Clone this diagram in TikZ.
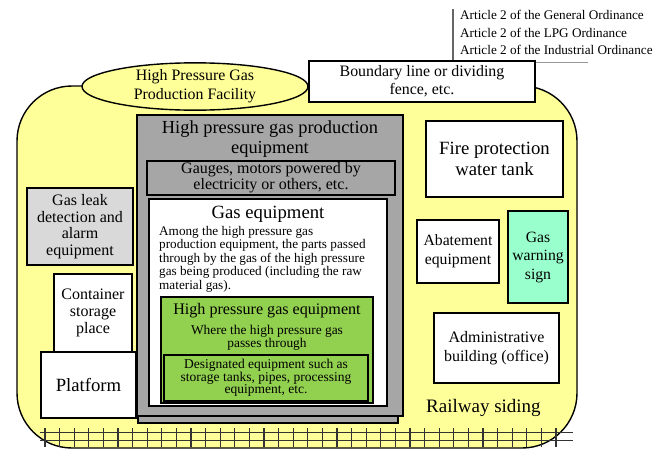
\documentclass[tikz,border=0pt]{standalone}
\usepackage{fontspec}
\setmainfont{Liberation Serif}
\usetikzlibrary{shapes.geometric}
\definecolor{yel}{HTML}{FFFF99}
\definecolor{grayA}{HTML}{A6A6A6}
\definecolor{grayL}{HTML}{D9D9D9}
\definecolor{grn}{HTML}{92D050}
\definecolor{mint}{HTML}{99FFCC}
\definecolor{railc}{HTML}{333333}
\newcommand\fsz[2]{\fontsize{#1}{#2}\selectfont}
\begin{document}
\begin{tikzpicture}[x=1pt,y=-1pt,
  box/.style={draw=black, line width=1.6pt, inner sep=0pt, align=center, outer sep=0pt},
  thinbox/.style={draw=black, line width=1.1pt, inner sep=0pt, align=center, outer sep=0pt},
  txt/.style={inner sep=0pt, align=center},
  tie/.style={draw=railc, line width=1.3pt},
  rail/.style={draw=railc, line width=1pt}]
\useasboundingbox (0,0) rectangle (668,450);
% article text
\draw[draw=black!60, line width=1.2pt] (453,9) -- (453,62);
\draw[draw=black!40, line width=0.8pt] (453,62) -- (588,62);
\node[txt, anchor=west, align=left, font=\fsz{13.2}{17.5}] (art) at (460,32.5)
  {Article 2 of the General Ordinance\\Article 2 of the LPG Ordinance\\Article 2 of the Industrial Ordinance};
% yellow area
\draw[fill=yel, draw=black, line width=1.4pt, rounded corners=55pt] (17,86) rectangle (577,448);
% railway
\coordinate (r1a) at (40,432.5); \coordinate (r1b) at (573,432.5);
\coordinate (r2a) at (40,440.5); \coordinate (r2b) at (573,440.5);
\draw[rail] (r1a) -- (r1b);
\draw[rail] (r2a) -- (r2b);
\foreach \i in {0,...,35} {\draw[tie] (45+14.6*\i,428) -- (45+14.6*\i,447);}
% ellipse
\node[ellipse, draw=black, line width=1.4pt, fill=yel, minimum width=226, minimum height=45, inner sep=0pt, align=center, font=\fsz{15.9}{19}] (fac) at (195,86.5) {High Pressure Gas\\Production Facility};
% boundary
\node[box, line width=2pt, fill=white, minimum width=226, minimum height=41, font=\fsz{15.9}{18}] (bnd) at (422,81.5) {Boundary line or dividing\\fence, etc.};
% gray production equipment
\node[box, fill=grayA, minimum width=260, minimum height=303] (shadow) at (268,271.5) {};
\node[box, fill=grayA, minimum width=266, minimum height=301] (prod) at (270,265.5) {};
\node[txt, font=\fsz{18.4}{20}] (prodt) at (270,139) {High pressure gas production\\equipment};
\node[box, fill=grayA, minimum width=248, minimum height=34, font=\fsz{16}{16}] (gauge) at (271,178) {Gauges, motors powered by\\electricity or others, etc.};
% gas equipment
\node[thinbox, fill=white, minimum width=238, minimum height=207] (gaseq) at (268,302.5) {};
\node[txt, font=\fsz{18.7}{20}] (gaseqt) at (268,214) {Gas equipment};
\node[txt, anchor=north west, align=left, font=\fsz{13.2}{13.5}] (gasdesc) at (159,226)
  {Among the high pressure gas\\production equipment, the parts passed\\through by the gas of the high pressure\\gas being produced (including the raw\\material gas).};
% high pressure gas equipment
\node[thinbox, fill=grn, minimum width=212, minimum height=106] (hpg) at (267,350) {};
\node[txt, font=\fsz{16.1}{18}] (hpgt) at (267,311) {High pressure gas equipment};
\node[txt, font=\fsz{13.4}{12}] (hpgd) at (267,338) {Where the high pressure gas\\passes through};
\node[box, fill=grn, minimum width=204, minimum height=46, font=\fsz{13.5}{12}] (desig) at (266,378) {Designated equipment such as\\storage tanks, pipes, processing\\equipment, etc.};
% left boxes
\node[box, fill=grayL, minimum width=106, minimum height=77, font=\fsz{16}{16.7}] (leak) at (80,226.5) {Gas leak\\detection and\\alarm\\equipment};
\node[box, fill=white, minimum width=78, minimum height=82] (cont) at (93,315) {};
\node[txt, font=\fsz{16}{16.7}] (contt) at (93,313) {Container\\storage\\place};
\node[box, fill=white, minimum width=95, minimum height=66, font=\fsz{18.7}{20}] (plat) at (88.5,385) {Platform};
% right boxes
\node[box, line width=2pt, fill=white, minimum width=137, minimum height=76, font=\fsz{18.7}{21}] (fire) at (494.5,159) {Fire protection\\water tank};
\node[box, fill=white, minimum width=82, minimum height=63, font=\fsz{15.7}{19}] (abat) at (458,251.5) {Abatement\\equipment};
\node[box, fill=mint, minimum width=60, minimum height=92, font=\fsz{15.7}{18.5}] (warn) at (538,257) {Gas\\warning\\sign};
\node[box, fill=white, minimum width=125, minimum height=70, font=\fsz{16}{18.5}] (admin) at (496.5,348) {Administrative\\building (office)};
\node[txt, anchor=west, font=\fsz{19}{20}] (rail) at (426,408) {Railway siding};
\end{tikzpicture}
\end{document}
